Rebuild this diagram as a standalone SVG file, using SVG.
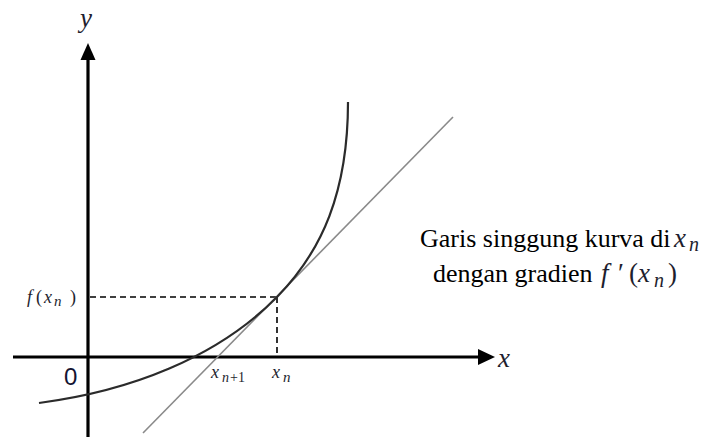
<svg xmlns="http://www.w3.org/2000/svg" width="702" height="437" viewBox="0 0 702 437">
  <style>
    .axis { stroke: #000; fill: none; }
    .head { fill: #000; stroke: none; }
    .curve { stroke: #2b2b2b; stroke-width: 2.2; fill: none; }
    .tangent { stroke: #8a8a8a; stroke-width: 1.6; fill: none; }
    .guide { stroke: #000; stroke-width: 1.6; stroke-dasharray: 6 4; fill: none; }
    text { font-family: 'Liberation Serif', 'Times New Roman', serif; }
    .math { font-style: italic; fill: #1e1e2e; }
    .up { font-style: normal; }
    .txt { font-size: 26px; fill: #000; }
    .sans { font-family: 'Liberation Sans', Arial, sans-serif; fill: #141432; }
  </style>
  <rect width="702" height="437" fill="#fff"/>

  <g id="axes">
    <line class="axis" x1="88" y1="58" x2="88" y2="437" stroke-width="3.2"/>
    <polygon class="head" points="88,43 80.5,60 95.5,60"/>
    <line class="axis" x1="13" y1="357" x2="480" y2="357" stroke-width="2.8"/>
    <polygon class="head" points="495,357 478,349 478,365"/>
  </g>

  <g id="guides">
    <line class="guide" x1="90" y1="297" x2="277" y2="297"/>
    <line class="guide" x1="277" y1="297" x2="277" y2="356"/>
  </g>

  <g id="tangent">
    <line class="tangent" x1="143" y1="433" x2="453" y2="117"/>
  </g>

  <g id="curve">
    <path class="curve" d="M39,403 C129,391.3 217,358.2 277,297 C322,251.1 348,192 348,102"/>
  </g>

  <g id="labels">
    <text class="math" x="80" y="27" font-size="27">y</text>
    <text class="math" x="498" y="367" font-size="27">x</text>
    <text class="sans" x="64" y="385" font-size="24">0</text>

    <text class="math" font-size="18" y="303"><tspan x="27">f</tspan><tspan class="up" x="36">(</tspan><tspan x="44">x</tspan><tspan x="54" y="306" font-size="15">n</tspan><tspan class="up" x="70" y="303">)</tspan></text>

    <text class="math" font-size="18" y="378"><tspan x="211">x</tspan><tspan x="222" y="382" font-size="14">n</tspan><tspan class="up" x="230" y="382" font-size="14">+1</tspan></text>
    <text class="math" font-size="18" y="378"><tspan x="272">x</tspan><tspan x="283" y="382" font-size="15">n</tspan></text>
  </g>

  <g id="caption">
    <text class="txt" x="420" y="246.5" font-size="25.5">Garis singgung kurva di</text>
    <text class="math" font-size="27" x="674" y="246.5">x<tspan x="689" y="251" font-size="20">n</tspan></text>
    <text class="txt" x="433" y="282">dengan gradien</text>
    <text class="math" font-size="27" y="282"><tspan x="601">f</tspan><tspan class="up" x="618">′</tspan><tspan class="up" x="629">(</tspan><tspan x="638">x</tspan><tspan x="654" y="286.5" font-size="20">n</tspan><tspan class="up" x="668" y="282">)</tspan></text>
  </g>
</svg>
